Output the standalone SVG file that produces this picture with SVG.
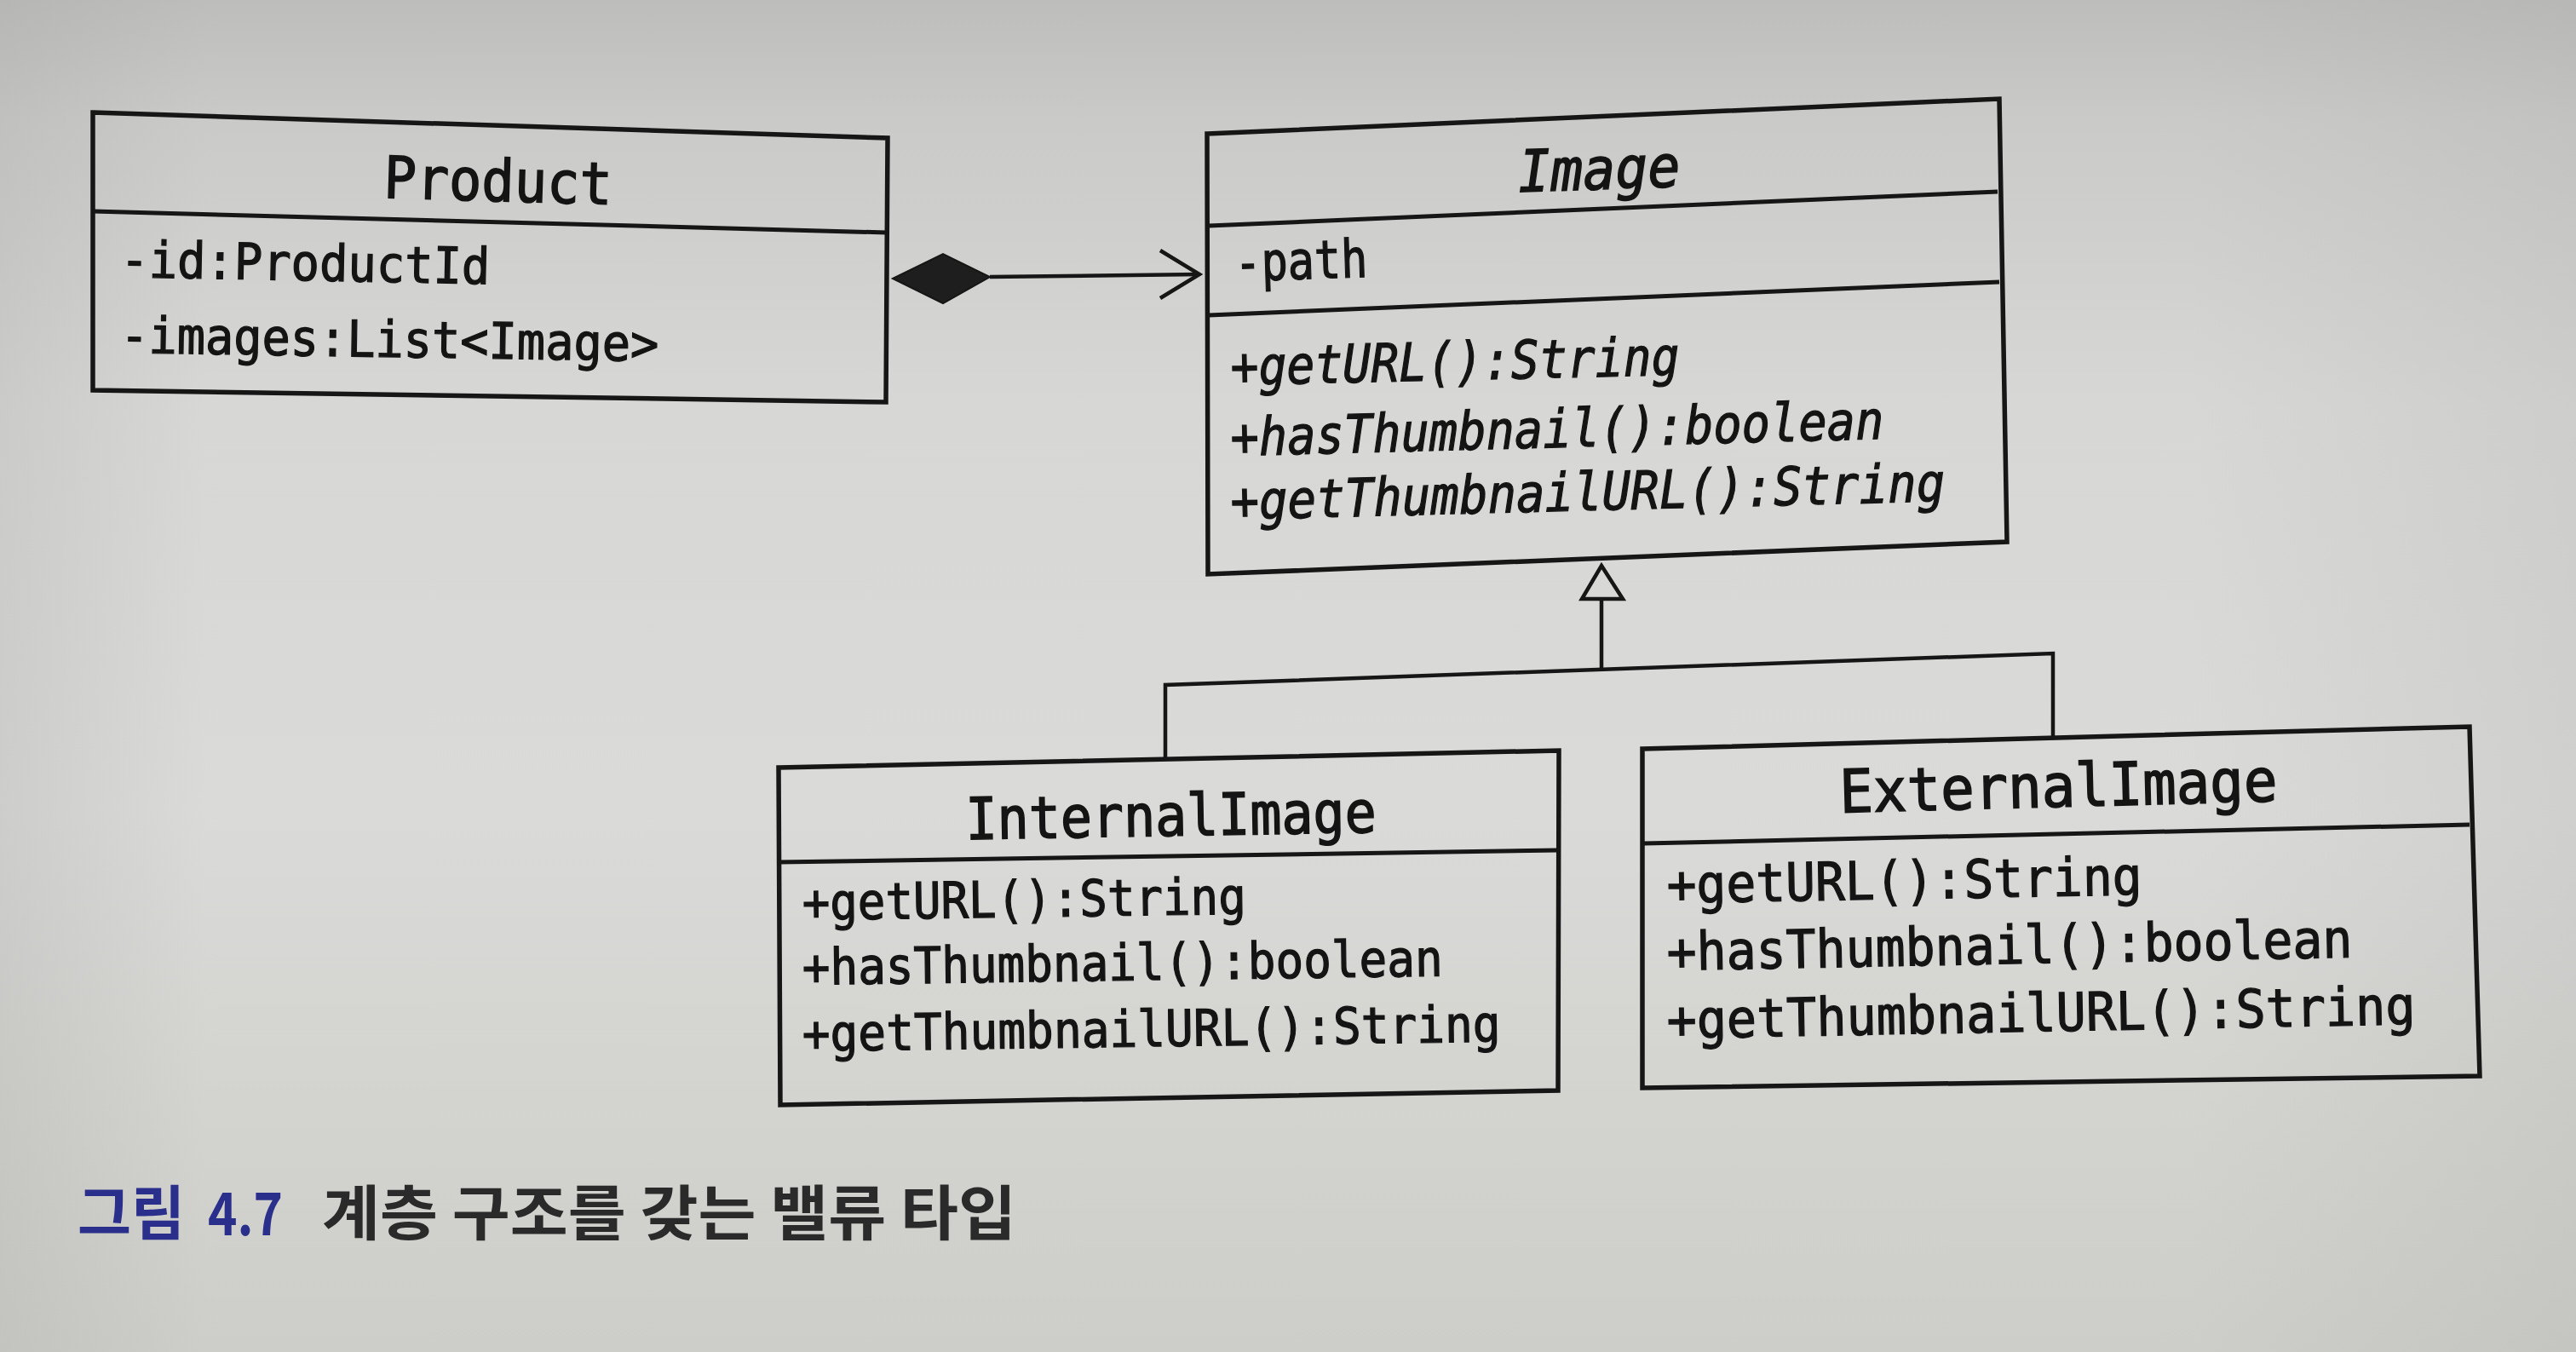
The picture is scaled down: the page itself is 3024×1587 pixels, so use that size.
<svg xmlns="http://www.w3.org/2000/svg" width="3024" height="1587" viewBox="0 0 3024 1587">
  <defs>
    <linearGradient id="paper" x1="0" y1="0" x2="0" y2="1">
      <stop offset="0" stop-color="#bdbdbb"/>
      <stop offset="0.09" stop-color="#cacac8"/>
      <stop offset="0.3" stop-color="#d7d7d5"/>
      <stop offset="0.6" stop-color="#dadad8"/>
      <stop offset="1" stop-color="#cdcdc9"/>
    </linearGradient>
    <linearGradient id="edges" x1="0" y1="0" x2="1" y2="0">
      <stop offset="0" stop-color="#9a9a98" stop-opacity="0.2"/>
      <stop offset="0.08" stop-color="#9a9a98" stop-opacity="0"/>
      <stop offset="0.85" stop-color="#9a9a98" stop-opacity="0"/>
      <stop offset="1" stop-color="#9a9a98" stop-opacity="0.16"/>
    </linearGradient>
    <style>
      .box { fill: none; stroke: #161616; stroke-width: 5.5; stroke-linejoin: miter; }
      .div { stroke: #161616; stroke-width: 5; }
      .t { font-family: "DejaVu Sans Mono", "Liberation Mono", monospace; fill: #141414; stroke: #141414; stroke-width: 1.3; }
      .title { font-size: 68px; stroke-width: 1.6; }
      .attr { font-size: 59px; }
      .it { font-style: italic; font-size: 62px; }
      .conn { stroke: #161616; stroke-width: 4.5; fill: none; stroke-linejoin: miter; }
      .cap { font-family: "Noto Sans CJK KR", "Noto Sans", sans-serif; font-weight: 700; font-size: 70px; }
    </style>
  </defs>

  <!-- page -->
  <rect width="3024" height="1587" fill="url(#paper)"/>
  <rect width="3024" height="1587" fill="url(#edges)"/>

  <!-- Product -->
  <g id="product">
    <polygon class="box" points="109,132 1042,162 1040,472 109,458"/>
    <line class="div" x1="109" y1="248" x2="1041" y2="273"/>
    <text class="t title" x="584" y="236" text-anchor="middle" textLength="268" lengthAdjust="spacingAndGlyphs" transform="rotate(1.7 584 236)">Product</text>
    <text class="t attr" x="141" y="325" textLength="434" lengthAdjust="spacingAndGlyphs" transform="rotate(1.1 141 325)">-id:ProductId</text>
    <text class="t attr" x="141" y="414" textLength="632" lengthAdjust="spacingAndGlyphs" transform="rotate(0.9 141 414)">-images:List&lt;Image&gt;</text>
  </g>

  <!-- Image (abstract) -->
  <g id="image">
    <polygon class="box" points="1417,157 2347,116 2356,636 1418,674"/>
    <line class="div" x1="1419" y1="265" x2="2345" y2="225"/>
    <line class="div" x1="1419" y1="370" x2="2347" y2="331"/>
    <text class="t title it" x="1878" y="222" text-anchor="middle" textLength="190" lengthAdjust="spacingAndGlyphs" transform="rotate(-2 1878 222)" style="font-size:68px">Image</text>
    <text class="t" x="1450" y="330" textLength="156" lengthAdjust="spacingAndGlyphs" transform="rotate(-1.8 1450 330)" style="font-size:62px">-path</text>
    <text class="t it" x="1445" y="452" textLength="527" lengthAdjust="spacingAndGlyphs" transform="rotate(-1.3 1445 452)">+getURL():String</text>
    <text class="t it" x="1445" y="535" textLength="767" lengthAdjust="spacingAndGlyphs" transform="rotate(-1.5 1445 535)">+hasThumbnail():boolean</text>
    <text class="t it" x="1445" y="610" textLength="839" lengthAdjust="spacingAndGlyphs" transform="rotate(-1.5 1445 610)">+getThumbnailURL():String</text>
  </g>

  <!-- InternalImage -->
  <g id="internal-image">
    <polygon class="box" points="914,901 1830,881 1829,1280 916,1297"/>
    <line class="div" x1="914" y1="1012" x2="1828" y2="998"/>
    <text class="t title" x="1375" y="981" text-anchor="middle" textLength="482" lengthAdjust="spacingAndGlyphs" transform="rotate(-1 1375 981)">InternalImage</text>
    <text class="t attr" x="942" y="1080" textLength="521" lengthAdjust="spacingAndGlyphs" transform="rotate(-0.8 942 1080)">+getURL():String</text>
    <text class="t attr" x="942" y="1156" textLength="752" lengthAdjust="spacingAndGlyphs" transform="rotate(-0.8 942 1156)">+hasThumbnail():boolean</text>
    <text class="t attr" x="942" y="1234" textLength="820" lengthAdjust="spacingAndGlyphs" transform="rotate(-0.8 942 1234)">+getThumbnailURL():String</text>
  </g>

  <!-- ExternalImage -->
  <g id="external-image">
    <polygon class="box" points="1928,879 2899,853 2911,1263 1928,1277"/>
    <line class="div" x1="1930" y1="990" x2="2899" y2="968"/>
    <text class="t title" x="2417" y="947" text-anchor="middle" textLength="514" lengthAdjust="spacingAndGlyphs" transform="rotate(-1.5 2417 947)" style="font-size:70px">ExternalImage</text>
    <text class="t attr" x="1957" y="1060" textLength="558" lengthAdjust="spacingAndGlyphs" transform="rotate(-1 1957 1060)" style="font-size:62px">+getURL():String</text>
    <text class="t attr" x="1957" y="1139" textLength="805" lengthAdjust="spacingAndGlyphs" transform="rotate(-1.1 1957 1139)" style="font-size:62px">+hasThumbnail():boolean</text>
    <text class="t attr" x="1957" y="1219" textLength="879" lengthAdjust="spacingAndGlyphs" transform="rotate(-1.1 1957 1219)" style="font-size:62px">+getThumbnailURL():String</text>
  </g>

  <!-- connectors -->
  <g id="connectors">
    <!-- composition: Product owns Images -->
    <polygon points="1048,327 1107,298 1162,325 1107,356" fill="#1e1e1e" stroke="#161616" stroke-width="2"/>
    <line class="conn" x1="1162" y1="325" x2="1408" y2="322"/>
    <polyline class="conn" points="1362,294 1408,322 1362,350"/>
    <!-- generalization: InternalImage / ExternalImage extend Image -->
    <polygon points="1880,664 1905,703 1857,703" fill="#d8d8d6" stroke="#161616" stroke-width="4.5"/>
    <line class="conn" x1="1880" y1="703" x2="1880" y2="786"/>
    <polyline class="conn" points="1368,892 1368,804 2410,767 2410,866"/>
  </g>

  <!-- caption -->
  <g id="caption">
    <text class="cap" x="91" y="1450" fill="#2b2f8c" textLength="126" lengthAdjust="spacingAndGlyphs">그림</text>
    <text class="cap" x="244" y="1450" fill="#2b2f8c" textLength="88" lengthAdjust="spacingAndGlyphs">4.7</text>
    <text class="cap" x="378" y="1450" fill="#2a2a2a" textLength="815" lengthAdjust="spacingAndGlyphs">계층 구조를 갖는 밸류 타입</text>
  </g>
</svg>
